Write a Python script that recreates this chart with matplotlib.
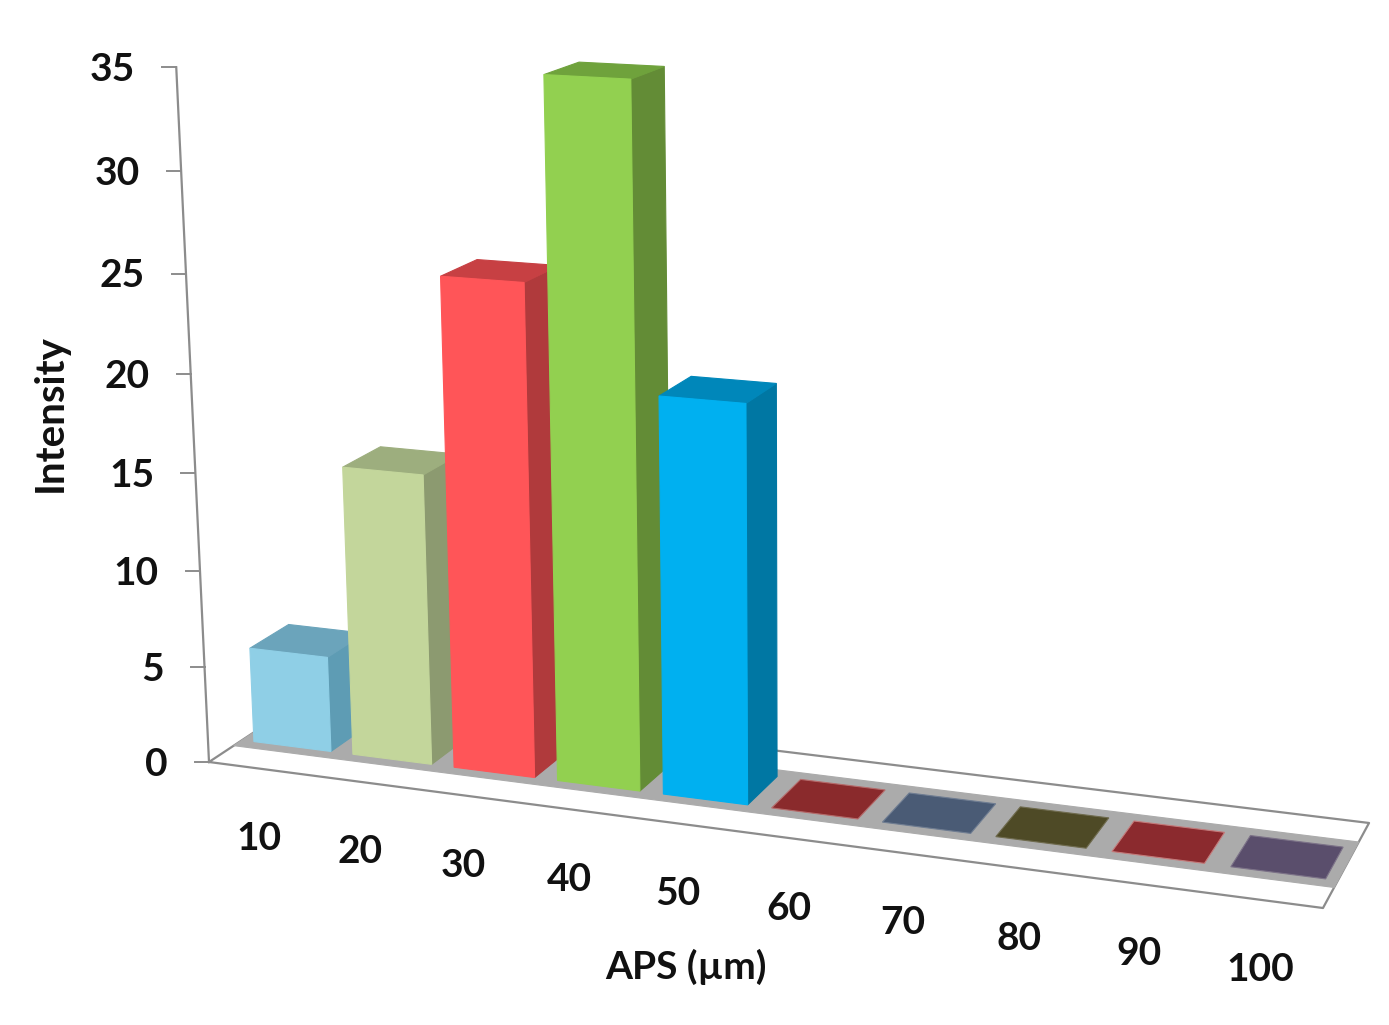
import numpy as np
import matplotlib
matplotlib.use("Agg")
from matplotlib import pyplot as plt

categories = ["10", "20", "30", "40", "50", "60", "70", "80", "90", "100"]
values = [5, 15, 25, 35, 20, 0, 0, 0, 0, 0]
y_ticks = [0, 5, 10, 15, 20, 25, 30, 35]

front_colors = ["#8FCFE6", "#C3D69B", "#FF5558", "#92D050", "#00B0F0",
                "#8A2A2C", "#4A5B75", "#4E4A26", "#8B2A2E", "#5A4E6C"]
side_colors = ["#5E9CB4", "#8C9A70", "#B03A3C", "#638C36", "#0077A3"]
top_colors = ["#6BA4BB", "#9DAE7E", "#C74043", "#6FA23C", "#0087BA"]
flat_edges = ["#B56A6A", "#6F7D92", "#6F6B4E", "#C47A7A", "#7C7288"]

# camera: floor homography (u = category/10, v = depth) plus vertical vanishing point
a, b, c = 967.4, 121.3, 209.0
d, e, f = 45.4, -27.3, 762.0
g, h = -0.1108, 0.0587
vx, vy, s = 800.0, 13300.0, -0.0015


def project(cat, depth, z):
    u = np.asarray(cat, dtype=float) / 10
    v = np.asarray(depth, dtype=float)
    z = np.asarray(z, dtype=float)
    w = g * u + h * v + 1 + s * z
    px = (a * u + b * v + c + s * vx * z) / w
    py = (d * u + e * v + f + s * vy * z) / w
    return px, py


def face(ax, cat, depth, z, color, edge=None, zorder=2):
    px, py = project(cat, depth, z)
    ax.fill(px, py, facecolor=color, edgecolor=edge or color, linewidth=0.8, zorder=zorder)


plt.rcParams["font.family"] = ["Lato", "DejaVu Sans"]
fig = plt.figure(figsize=(13.89, 10.25), dpi=100)
ax = fig.add_axes([0, 0, 1, 1])
ax.set_xlim(0, 1389)
ax.set_ylim(1025, 0)
ax.axis("off")

line_col = "#8C8C8C"
n = len(categories)

# floor outline and gray band
px, py = project([0, n, n, 0, 0], [0, 0, 1, 1, 0], [0, 0, 0, 0, 0])
ax.plot(px, py, color=line_col, lw=1.6, zorder=1)
face(ax, [0, n, n, 0], [0.23, 0.23, 0.765, 0.765], [0, 0, 0, 0], "#ABABAB", zorder=1)

# value axis
px, py = project([0, 0], [0, 0], [0, max(y_ticks)])
ax.plot(px, py, color=line_col, lw=1.6, zorder=1)
for t in y_ticks:
    tx, ty = project(0, 0, t)
    ax.plot([tx - 14, tx], [ty, ty], color=line_col, lw=1.4, zorder=1)
    ax.text(tx - 41, ty + 2, str(t), ha="right", va="center", fontsize=28,
            fontweight="bold", color="#111111")

# bars, left to right so nearer ones cover the sides
x0, x1 = 0.12, 0.90
d0, d1 = 0.31, 0.685
for i, val in enumerate(values):
    l, r = i + x0, i + x1
    if val > 0:
        face(ax, [r, r, r, r], [d0, d1, d1, d0], [0, 0, val, val], side_colors[i], zorder=3)
        face(ax, [l, r, r, l], [d0, d0, d1, d1], [val] * 4, top_colors[i], zorder=3)
        face(ax, [l, r, r, l], [d0, d0, d0, d0], [0, 0, val, val], front_colors[i], zorder=3)
    else:
        face(ax, [l, r, r, l], [d0, d0, d1, d1], [0] * 4, front_colors[i],
             edge=flat_edges[i - 5], zorder=3)

# category labels sit below the front floor edge
for i, lab in enumerate(categories):
    tx, ty = project(i + 0.5, 0, 0)
    ax.text(tx, ty + 70, lab, ha="center", va="center", fontsize=28,
            fontweight="bold", color="#111111")

ax.text(50, 413, "Intensity", rotation=90, ha="center", va="center", fontsize=29,
        fontweight="bold", color="#111111")
ax.text(686, 967, "APS (µm)", ha="center", va="center", fontsize=28,
        fontweight="bold", color="#111111")

fig.savefig("out.png", dpi=100, facecolor="white")
